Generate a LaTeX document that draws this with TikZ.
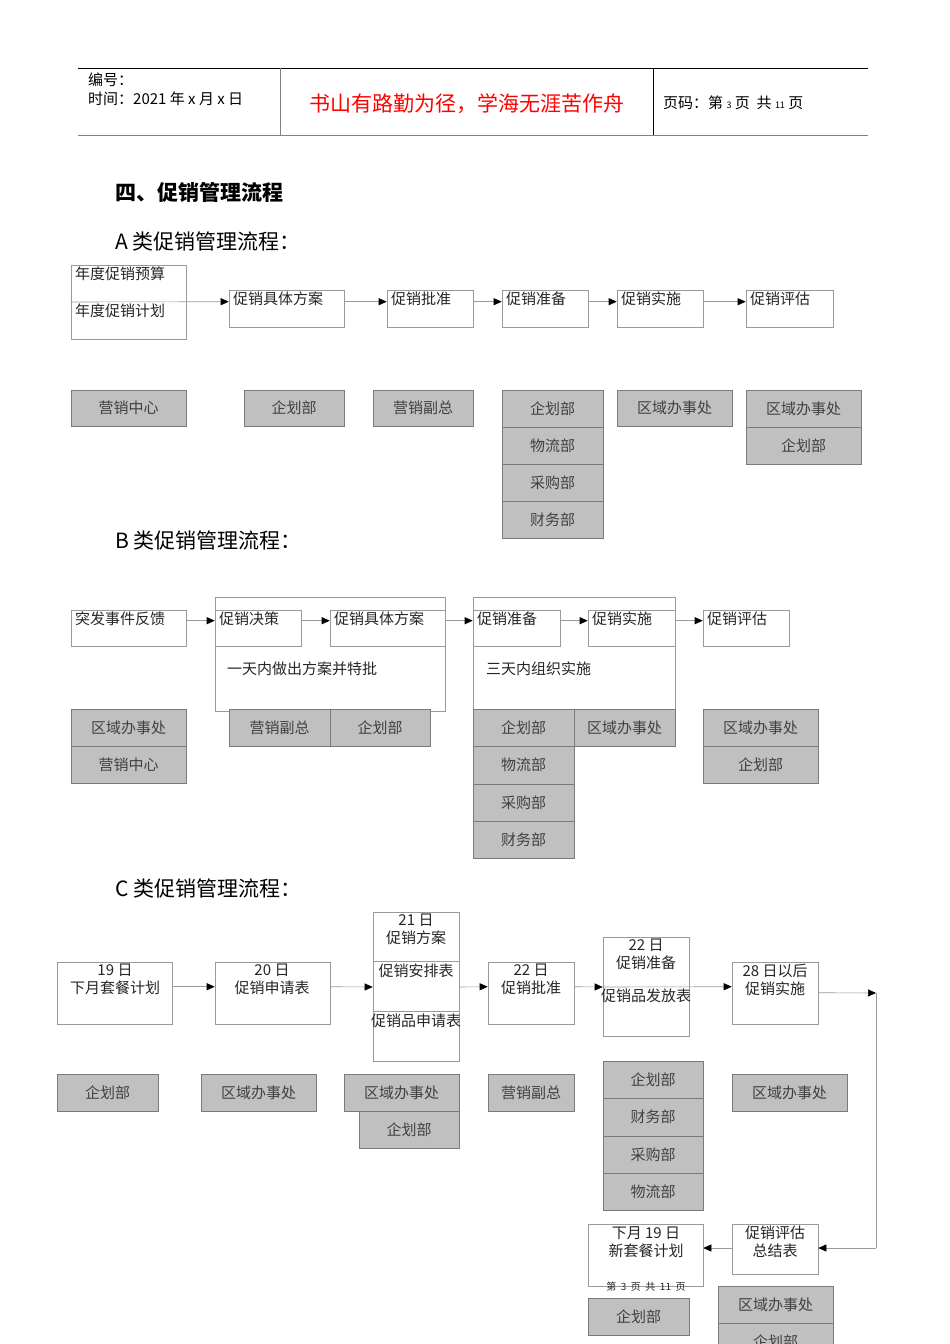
\documentclass[tikz,border=0pt]{standalone}
\usepackage{fontspec}
\setmainfont{Noto Sans CJK SC}
\newfontfamily\cjk{Noto Sans CJK SC}
\usetikzlibrary{arrows.meta}
\definecolor{gfill}{HTML}{C0C0C0}
\definecolor{gline}{HTML}{9A9A9A}
\tikzset{
 wbox/.style={draw=gline,fill=white,line width=0.6pt,inner sep=0pt},
 gbox/.style={draw=gline!80!black,fill=gfill,line width=0.6pt,inner sep=0pt,font=\fontsize{15}{17}\selectfont,text=black!75},
 tl/.style={anchor=north west,inner sep=0pt,font=\fontsize{15}{17}\selectfont,text=black!85},
 ct/.style={anchor=north,inner sep=0pt,align=center,font=\fontsize{15}{18}\selectfont,text=black!85},
 arr/.style={draw=gline,line width=0.6pt,-{Triangle[black,length=8pt,width=7pt]}},
 ln/.style={draw=gline,line width=0.6pt},
}
\newcommand\rb[6][]{\node[#6,minimum width={(#4-#2)*1pt},minimum height={(#5-#3)*1pt}] (#1) at ({(#2+#4)/2},{(#3+#5)/2}) {};}
\newcommand\gb[6]{\node[gbox,minimum width={(#4-#2)*1pt},minimum height={(#5-#3)*1pt}] (#1) at ({(#2+#4)/2},{(#3+#5)/2}) {#6};}
\begin{document}
\begin{tikzpicture}[x=1pt,y=-1pt]
\useasboundingbox (0,0) rectangle (950,1344);
\fill[white] (0,0) rectangle (950,1344);
% header
\coordinate (h1) at (78,68); \coordinate (h2) at (868,68);
\coordinate (h3) at (78,135); \coordinate (h4) at (868,135);
\draw[line width=0.6pt] (h1) -- (h2);
\draw[line width=1pt,gray] (h3) -- (h4);
\draw[gray,line width=0.8pt] (280,68) -- (280,135);
\draw[line width=0.6pt] (653,68) -- (653,135);
\node[anchor=west,inner sep=0pt,font=\fontsize{15}{17}\selectfont] (hb) at (88,80) {编号：};
\node[anchor=west,inner sep=0pt,font=\fontsize{15}{17}\selectfont] (ht) at (88,99) {时间：2021 年 x 月 x 日};
\node[inner sep=0pt,text=red,font=\fontsize{21}{24}\selectfont] (hm) at (467,104) {书山有路勤为径，学海无涯苦作舟};
\node[anchor=west,inner sep=0pt,font=\fontsize{15}{17}\selectfont] (hp) at (663,103) {页码：第 {\small 3} 页\ \ 共 {\small 11} 页};
% titles
\node[anchor=west,inner sep=0pt,font=\fontsize{21}{24}\selectfont\bfseries] (t0) at (115,192) {四、促销管理流程};
\node[anchor=west,inner sep=0pt,font=\fontsize{21}{24}\selectfont] (tA) at (115,241) {A 类促销管理流程：};
\node[anchor=west,inner sep=0pt,font=\fontsize{21}{24}\selectfont] (tB) at (115,540) {B 类促销管理流程：};
\node[anchor=west,inner sep=0pt,font=\fontsize{21}{24}\selectfont] (tC) at (115,888) {C 类促销管理流程：};
% ===== A
\rb[a1]{71}{265}{186}{339}{wbox}
\rb[a2]{229}{290}{344}{327}{wbox}
\rb[a3]{387}{290}{473}{327}{wbox}
\rb[a4]{502}{290}{588}{327}{wbox}
\rb[a5]{617}{290}{703}{327}{wbox}
\rb[a6]{746}{290}{833}{327}{wbox}
\node[tl] at (75,267) {年度促销预算};
\node[tl] at (75,304) {年度促销计划};
\node[tl] at (233,292) {促销具体方案};
\node[tl] at (391,292) {促销批准};
\node[tl] at (506,292) {促销准备};
\node[tl] at (621,292) {促销实施};
\node[tl] at (750,292) {促销评估};
\draw[arr] (a1.west |- 0,302) -- ([yshift=-12pt]a2.north west);
\foreach \p/\q in {a2/a3,a3/a4,a4/a5,a5/a6}
 \draw[arr] ([yshift=-12pt]\p.north east) -- ([yshift=-12pt]\q.north west);
\gb{ga1}{71}{390}{186}{426}{营销中心}
\gb{ga2}{244}{390}{344}{426}{企划部}
\gb{ga3}{373}{390}{473}{426}{营销副总}
\gb{ga4}{502}{390}{603}{427}{企划部}
\gb{ga5}{502}{427}{603}{464}{物流部}
\gb{ga6}{502}{464}{603}{501}{采购部}
\gb{ga7}{502}{501}{603}{538}{财务部}
\gb{ga8}{617}{390}{732}{426}{区域办事处}
\gb{ga9}{746}{390}{861}{427}{区域办事处}
\gb{ga10}{746}{427}{861}{464}{企划部}
% ===== B
\rb[bf1]{215}{597}{445}{711}{wbox}
\rb[bf2]{473}{597}{675}{711}{wbox}
\rb[b1]{71}{610}{186}{646}{wbox}
\rb[b2]{215}{610}{301}{646}{wbox}
\rb[b3]{330}{610}{445}{646}{wbox}
\rb[b4]{473}{610}{560}{646}{wbox}
\rb[b5]{588}{610}{675}{646}{wbox}
\rb[b6]{703}{610}{789}{646}{wbox}
\node[tl] at (75,612) {突发事件反馈};
\node[tl] at (219,612) {促销决策};
\node[tl] at (334,612) {促销具体方案};
\node[tl] at (477,612) {促销准备};
\node[tl] at (592,612) {促销实施};
\node[tl] at (707,612) {促销评估};
\node[tl] at (227,662) {一天内做出方案并特批};
\node[tl] at (486,662) {三天内组织实施};
\foreach \p/\q in {b1/b2,b2/b3,b3/b4,b4/b5,b5/b6}
 \draw[arr] ([yshift=-11pt]\p.north east) -- ([yshift=-11pt]\q.north west);
\gb{gb1}{71}{709}{186}{746}{区域办事处}
\gb{gb2}{71}{746}{186}{783}{营销中心}
\gb{gb3}{229}{709}{330}{746}{营销副总}
\gb{gb4}{330}{709}{430}{746}{企划部}
\gb{gb5}{473}{709}{574}{746}{企划部}
\gb{gb6}{473}{746}{574}{784}{物流部}
\gb{gb7}{473}{784}{574}{821}{采购部}
\gb{gb8}{473}{821}{574}{858}{财务部}
\gb{gb9}{574}{709}{675}{746}{区域办事处}
\gb{gb10}{703}{709}{818}{746}{区域办事处}
\gb{gb11}{703}{746}{818}{783}{企划部}
% ===== C
\rb[c1]{57}{962}{172}{1024}{wbox}
\rb[c2]{215}{962}{330}{1024}{wbox}
\rb[c3]{373}{912}{459}{1061}{wbox}
\rb[c4]{488}{962}{574}{1024}{wbox}
\rb[c5]{603}{937}{689}{1036}{wbox}
\rb[c6]{732}{962}{818}{1024}{wbox}
\rb[c7]{732}{1224}{818}{1274}{wbox}
\rb[c8]{588}{1224}{703}{1286}{wbox}
\draw[ln] (373,961) -- (459,961);
\draw[ln] (373,1011) -- (459,1011);
\node[ct] at (115,964) {19 日\\下月套餐计划};
\node[ct] at (272,964) {20 日\\促销申请表};
\node[ct] at (416,914) {21 日\\促销方案};
\node[ct] at (416,964) {促销安排表};
\node[ct] at (416,1014) {促销品申请表};
\node[ct] at (531,964) {22 日\\促销批准};
\node[ct] at (646,939) {22 日\\促销准备};
\node[ct] at (646,989) {促销品发放表};
\node[ct] at (775,964) {28 日以后\\促销实施};
\node[ct] at (775,1226) {促销评估\\总结表};
\node[ct] at (646,1226) {下月 19 日\\新套餐计划};
\node[ct,font=\fontsize{10}{11}\selectfont] at (646,1282) {第\ \ 3\ \ 页\ \ 共\ \ 11\ \ 页};
\draw[arr] ([yshift=-25pt]c1.north east) -- ([yshift=-25pt]c2.north west);
\draw[arr] ([yshift=-25pt]c2.north east) -- (c3.west |- 0,987);
\draw[arr] (c3.east |- 0,987) -- ([yshift=-25pt]c4.north west);
\draw[arr] ([yshift=-25pt]c4.north east) -- (c5.west |- 0,987);
\draw[arr] (c5.west |- 0,987) -- ([yshift=-25pt]c6.north west);
\coordinate (cr) at (876,993);
\coordinate (cb) at (876,1248);
\draw[arr] ([yshift=-31pt]c6.north east) -- (cr);
\draw[ln] (cr) -- (cb);
\draw[arr] (cb) -- (c7.east |- cb);
\draw[arr] (c7.west |- cb) -- (c8.east |- cb);
\gb{gc1}{57}{1074}{158}{1111}{企划部}
\gb{gc2}{201}{1074}{316}{1111}{区域办事处}
\gb{gc3}{344}{1074}{459}{1111}{区域办事处}
\gb{gc4}{359}{1111}{459}{1148}{企划部}
\gb{gc5}{488}{1074}{574}{1111}{营销副总}
\gb{gc6}{603}{1061}{703}{1098}{企划部}
\gb{gc7}{603}{1098}{703}{1136}{财务部}
\gb{gc8}{603}{1136}{703}{1173}{采购部}
\gb{gc9}{603}{1173}{703}{1210}{物流部}
\gb{gc10}{732}{1074}{847}{1111}{区域办事处}
\gb{gc11}{588}{1298}{689}{1335}{企划部}
\gb{gc12}{718}{1286}{833}{1323}{区域办事处}
\gb{gc13}{718}{1323}{833}{1360}{企划部}
\end{tikzpicture}
\end{document}
